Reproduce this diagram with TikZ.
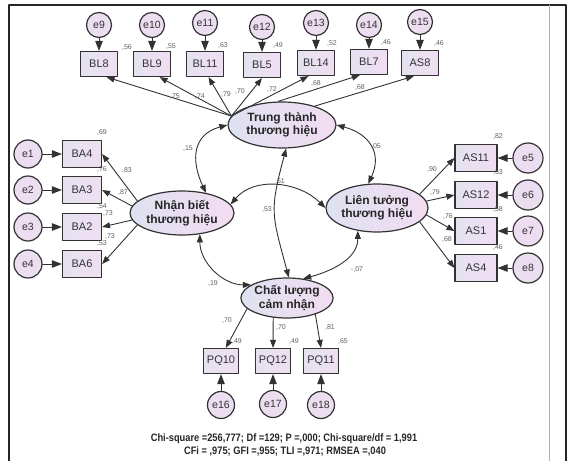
\documentclass[tikz,border=0pt]{standalone}
\usepackage{fontspec}
\setmainfont{Liberation Sans}
\usetikzlibrary{arrows.meta,shapes.geometric}

\definecolor{boxleft}{RGB}{228,226,240}
\definecolor{boxright}{RGB}{240,222,242}
\definecolor{latleft}{RGB}{222,226,240}
\definecolor{latright}{RGB}{242,220,242}
\definecolor{errfill}{RGB}{236,222,240}
\definecolor{edge}{RGB}{50,50,50}
\definecolor{coef}{RGB}{95,95,95}

\begin{document}
\begin{tikzpicture}[
						x=1pt, y=1pt,
						line cap=round,
						line join=round,
						obs/.style={draw=edge, line width=1.2pt, left color=boxleft, right color=boxright,
							minimum width=37pt, minimum height=25pt, inner sep=0pt,
							text=black!80, font=\fontsize{11}{12}\selectfont},
						lat/.style={ellipse, draw=edge, line width=1.2pt, left color=latleft, right color=latright,
							align=center, inner sep=0pt, text=black!85,
							font=\fontsize{12}{13.5}\selectfont\bfseries},
						err/.style={circle, draw=edge, line width=1.2pt, fill=errfill,
							minimum size=25pt, inner sep=0pt, text=black!80,
							font=\fontsize{10.5}{12}\selectfont},
						loading/.style={draw=edge, line width=0.9pt, -{Triangle[length=8pt,width=6pt]}},
						cov/.style={loading, {Triangle[length=8pt,width=6pt]}-{Triangle[length=8pt,width=6pt]}},
						errpath/.style={draw=edge, line width=0.9pt, -{Triangle[length=10pt,width=7.5pt]}},
						coefl/.style={inner sep=0pt, text=coef, font=\fontsize{7}{8}\selectfont},
						stat/.style={inner sep=0pt, text=black!85, font=\fontsize{10.8}{12}\selectfont\bfseries}
						]
						
						\useasboundingbox (0,0) rectangle (569,-460);
						
						% Frame
						\draw[line width=1.6pt, black!85] (9,-461) -- (9,-5) -- (566,-5) -- (566,-461);
						\draw[line width=0.8pt, black!30] (549,-5) -- (549,-461);
						
						% Latent factors
						\node[lat, minimum width=108pt, minimum height=46pt] (tt) at (282,-125) {Trung thành\\thương hiệu};
						\node[lat, minimum width=104pt, minimum height=44pt] (nb) at (182,-213) {Nhận biết\\thương hiệu};
						\node[lat, minimum width=102pt, minimum height=48pt] (lt) at (377,-208) {Liên tưởng\\thương hiệu};
						\node[lat, minimum width=90pt, minimum height=40pt] (cl) at (287,-298) {Chất lượng\\cảm nhận};
						
						% Top indicators
						\foreach \nm/\x/\y/\er/\ey in {BL8/99/64/e9/25, BL9/152/64/e10/25, BL11/205/64/e11/23,
							BL5/262/65/e12/27, BL14/316/63/e13/23, BL7/369/62/e14/25, AS8/420/63/e15/22}{
							\node[obs] (\nm) at (\x,-\y) {\nm};
							\node[err] (\er) at (\x,-\ey) {\er};
							\draw[errpath] (\er) -- (\nm);
						}
						\foreach \nm/\a/\b in {BL8/170/-60, BL9/170/-60, BL11/170/-75, BL5/170/-90,
							BL14/170/-120, BL7/100/-125, AS8/30/-115}
						\draw[loading] (tt.\a) -- (\nm.\b);
						
						% Left indicators
						\foreach \nm/\er/\y in {BA4/e1/154, BA3/e2/190, BA2/e3/227, BA6/e4/264}{
							\node[obs, minimum width=39pt, minimum height=27pt] (\nm) at (82,-\y) {\nm};
							\node[err, minimum size=28pt] (\er) at (28,-\y) {\er};
							\draw[errpath] (\er) -- (\nm);
						}
						\foreach \nm/\a in {BA4/165, BA3/172, BA2/188, BA6/195}
						\draw[loading] (nb.\a) -- (\nm.east);
						
						% Right indicators
						\foreach \nm/\er/\y in {AS11/e5/158, AS12/e6/195, AS1/e7/231, AS4/e8/268}{
							\node[obs, minimum width=42pt, minimum height=27pt] (\nm) at (476,-\y) {\nm};
							\node[err, minimum size=30pt] (\er) at (528,-\y) {\er};
							\draw[errpath] (\er) -- (\nm);
						}
						\foreach \nm/\a in {AS11/18, AS12/8, AS1/-8, AS4/-18}
						\draw[loading] (lt.\a) -- (\nm.west);
						
						% Bottom indicators
						\foreach \nm/\er/\x/\ey in {PQ10/e16/221/405, PQ12/e17/273/404, PQ11/e18/321/405}{
							\node[obs, minimum width=35pt] (\nm) at (\x,-361) {\nm};
							\node[err, minimum size=27pt] (\er) at (\x,-\ey) {\er};
							\draw[errpath] (\er) -- (\nm);
						}
						\draw[loading] (cl.-165) -- (PQ10.70);
						\draw[loading] (cl.-125) -- (PQ12.north);
						\draw[loading] (cl.-30) -- (PQ11.north);
						
						% Covariances
						\draw[cov] (tt.west) to[out=195, in=115, looseness=1.3] (nb.40);
						\draw[cov] (tt.east) to[out=-15, in=65, looseness=1.3] (lt.110);
						\draw[cov] (nb.10) to[out=50, in=135] (lt.west);
						\draw[cov] (nb.-50) to[out=-90, in=180] (cl.160);
						\draw[cov] (lt.-130) to[out=-90, in=15] (cl.50);
						\draw[cov] (tt.-80) to[out=-105, in=105, looseness=1.3] (cl.85);
						
						% Estimates
						\foreach \v/\x/\y [count=\i] in {56/127/48, 55/171/47, 63/223/46, 49/278/46, 52/332/44, 46/386/43, 46/439/44,
							75/175/97, 74/200/97, 79/226/95, 70/240/92, 72/272/90, 68/316/84, 68/360/88,
							69/102/133, 76/102/170, 83/127/171, 87/123/193, 54/102/207, 73/108/214, 73/110/237, 53/102/243,
							82/498/137, 63/498/173, 58/498/210, 46/498/247, 90/432/170, 79/435/193, 76/448/217, 68/447/240,
							70/227/320, 49/237/341, 70/281/327, 49/294/341, 81/330/327, 65/343/341,
							15/188/149, 05/376/147, 61/280/182, 53/267/210, 19/213/283}
						\node[coefl] (w\i) at (\x,-\y) {,\v};
						\node[coefl] (wneg) at (357,-269) {-,07};
						
						% Fit statistics
						\node[stat] (chi) at (284,-439) {\scalebox{0.86}[1]{Chi-square =256,777; Df =129; P =,000; Chi-square/df = 1,991}};
						\node[stat] (cfi) at (285,-451) {\scalebox{0.86}[1]{CFi = ,975; GFI =,955; TLI =,971; RMSEA =,040}};
						
					\end{tikzpicture}
\end{document}
